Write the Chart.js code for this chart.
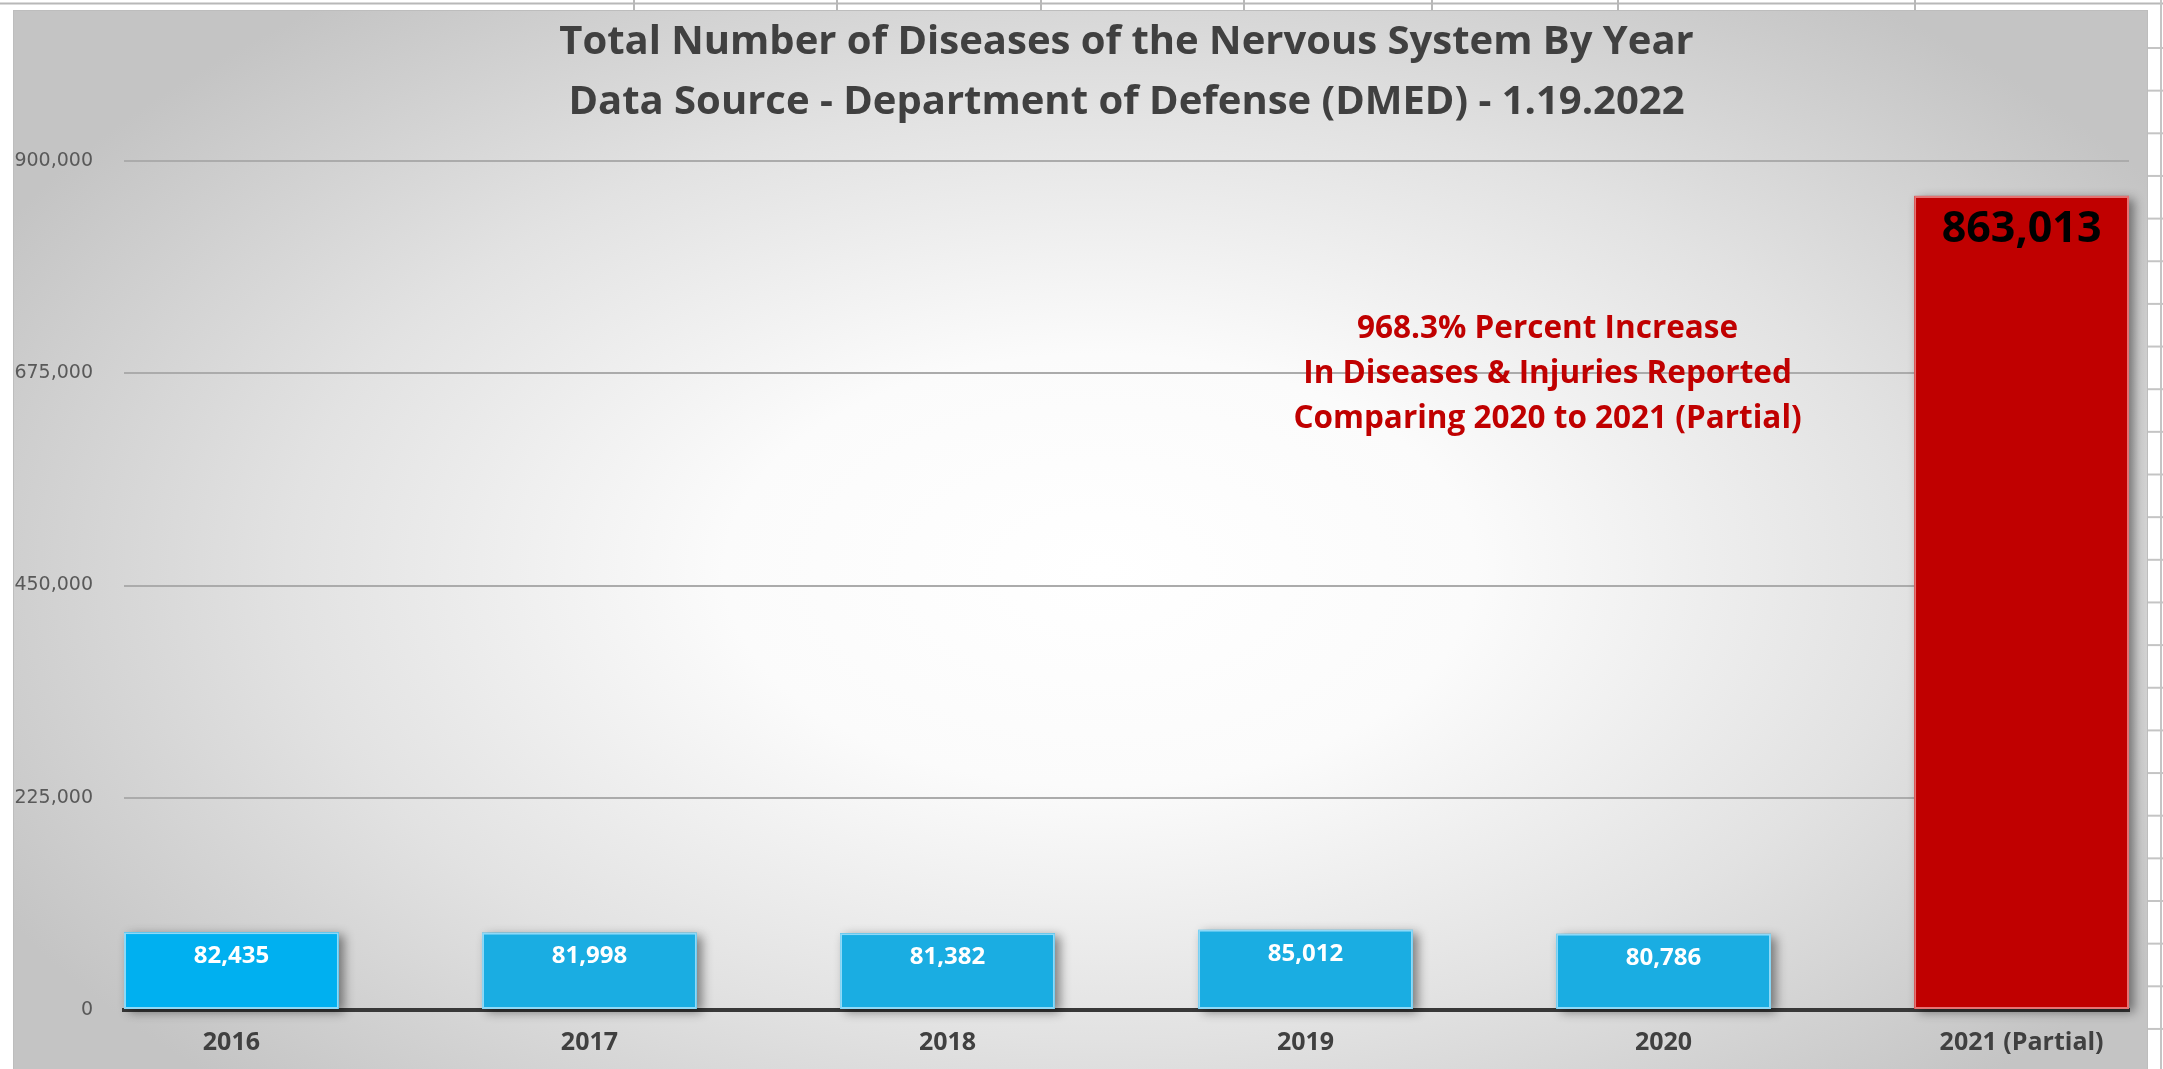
<!DOCTYPE html>
<html>
<head>
<meta charset="utf-8">
<script src="https://cdn.jsdelivr.net/npm/chart.js@4"></script>
<style>
  html, body { margin: 0; padding: 0; background: #ffffff; }
  #c { display: block; }
</style>
</head>
<body>
<canvas id="c" width="2163" height="1069" style="width:2163px;height:1069px"></canvas>
<script>
// ---- data ----
const categories = ['2016', '2017', '2018', '2019', '2020', '2021 (Partial)'];
const diseaseCounts = [82435, 81998, 81382, 85012, 80786, 863013];
const yTickValues = [0, 225000, 450000, 675000, 900000];
const titleLines = [
  'Total Number of Diseases of the Nervous System By Year',
  'Data Source - Department of Defense (DMED) - 1.19.2022'
];
const annotationLines = [
  '968.3% Percent Increase',
  'In Diseases & Injuries Reported',
  'Comparing 2020 to 2021 (Partial)'
];

// ---- styles ----
const barFill = ['#00B0F0', '#1AADE2', '#1AADE2', '#1AADE2', '#1AADE2', '#C00000'];
const barBorder = ['#8FD9F7', '#8FD9F7', '#8FD9F7', '#8FD9F7', '#8FD9F7', '#E57373'];
const labelColor = ['#FFFFFF', '#FFFFFF', '#FFFFFF', '#FFFFFF', '#FFFFFF', '#000000'];
const labelFont = ['bold 24px "Open Sans"', 'bold 24px "Open Sans"', 'bold 24px "Open Sans"',
                   'bold 24px "Open Sans"', 'bold 24px "Open Sans"', 'bold 43px "Open Sans"'];
const labelOffset = [24, 24, 24, 24, 24, 34];

const fmt = v => Number(v).toLocaleString('en-US');

// background: spreadsheet frame + radial gray gradient
const backgroundPlugin = {
  id: 'bg',
  beforeDraw(chart) {
    const ctx = chart.ctx;
    const W = chart.width, H = chart.height;
    ctx.save();
    ctx.fillStyle = '#ffffff';
    ctx.fillRect(0, 0, W, H);
    // spreadsheet cell lines
    ctx.strokeStyle = '#b8b8b8';
    ctx.lineWidth = 2;
    ctx.beginPath(); ctx.moveTo(0, 3.5); ctx.lineTo(W, 3.5); ctx.stroke();
    [634, 837, 1041, 1244, 1432, 1618, 1915].forEach(x => {
      ctx.beginPath(); ctx.moveTo(x, 0); ctx.lineTo(x, 10); ctx.stroke();
    });
    ctx.strokeStyle = '#c4c4c4';
    for (let y = 48; y < H; y += 42.65) {
      ctx.beginPath(); ctx.moveTo(2148, y); ctx.lineTo(W, y); ctx.stroke();
    }
    ctx.beginPath(); ctx.moveTo(2161, 0); ctx.lineTo(2161, H); ctx.stroke();

    // chart frame with elliptical radial gradient
    const fx = 13, fy = 10, fw = 2148 - 13, fh = H - 10;
    ctx.save();
    ctx.beginPath(); ctx.rect(fx, fy, fw, fh); ctx.clip();
    const cx = 1100, cy = 570, rx = 1250, ry = 720;
    ctx.translate(cx, cy);
    ctx.scale(1, ry / rx);
    const g = ctx.createRadialGradient(0, 0, 0, 0, 0, rx);
    g.addColorStop(0, '#ffffff');
    g.addColorStop(0.3, '#fbfbfb');
    g.addColorStop(0.65, '#e2e2e2');
    g.addColorStop(1, '#c4c4c4');
    ctx.fillStyle = g;
    ctx.fillRect(-rx * 2, -rx * 2, rx * 4, rx * 4);
    ctx.restore();
    ctx.strokeStyle = '#bdbdbd';
    ctx.lineWidth = 1;
    ctx.strokeRect(fx + 0.5, fy + 0.5, fw - 1, fh);
    ctx.restore();
  }
};

// soft drop shadow behind bars
const shadowPlugin = {
  id: 'barShadow',
  beforeDatasetsDraw(chart) {
    const ctx = chart.ctx;
    const meta = chart.getDatasetMeta(0);
    ctx.save();
    meta.data.forEach((el, i) => {
      const p = el.getProps(['x', 'y', 'base', 'width'], true);
      ctx.shadowColor = 'rgba(0,0,0,0.45)';
      ctx.shadowBlur = 10;
      ctx.shadowOffsetX = 5;
      ctx.shadowOffsetY = 3;
      ctx.fillStyle = barFill[i];
      ctx.fillRect(p.x - p.width / 2, p.y, p.width, p.base - p.y);
    });
    ctx.restore();
  }
};

// value labels inside the end of each bar
const valueLabelPlugin = {
  id: 'valueLabels',
  afterDatasetsDraw(chart) {
    const ctx = chart.ctx;
    const meta = chart.getDatasetMeta(0);
    ctx.save();
    ctx.textAlign = 'center';
    ctx.textBaseline = 'middle';
    meta.data.forEach((el, i) => {
      const p = el.getProps(['x', 'y'], true);
      ctx.font = labelFont[i];
      ctx.fillStyle = labelColor[i];
      ctx.fillText(fmt(diseaseCounts[i]), p.x, p.y + labelOffset[i]);
    });
    ctx.restore();
  }
};

// red text annotation
const annotationPlugin = {
  id: 'annotation',
  afterDatasetsDraw(chart) {
    const ctx = chart.ctx;
    const xs = chart.scales.x, ys = chart.scales.y;
    const ax = xs.getPixelForValue(3.676);
    const ay = ys.getPixelForValue(674000);
    ctx.save();
    ctx.textAlign = 'center';
    ctx.textBaseline = 'middle';
    ctx.font = 'bold 31.5px "Open Sans"';
    ctx.fillStyle = '#C00000';
    annotationLines.forEach((t, i) => ctx.fillText(t, ax, ay + (i - 1) * 45));
    ctx.restore();
  }
};

new Chart(document.getElementById('c'), {
  type: 'bar',
  data: {
    datasets: [{
      data: diseaseCounts.map((v, i) => ({ x: i, y: v })),
      backgroundColor: barFill,
      borderColor: barBorder,
      borderWidth: 2,
      borderSkipped: false,
      categoryPercentage: 1,
      barPercentage: 0.6
    }]
  },
  options: {
    responsive: false,
    animation: false,
    devicePixelRatio: 1,
    layout: { padding: { left: 0, right: 34, top: 0, bottom: 0 } },
    plugins: {
      legend: { display: false },
      tooltip: { enabled: false },
      title: {
        display: true,
        text: titleLines,
        fullSize: false,
        color: '#404040',
        font: { family: '"Open Sans"', weight: 'bold', size: 40, lineHeight: 60 / 40 },
        padding: { top: 13, bottom: 28 }
      }
    },
    scales: {
      x: {
        type: 'linear',
        min: -0.3,
        max: 5.3,
        offset: false,
        z: 1,
        afterBuildTicks: s => { s.ticks = categories.map((c, i) => ({ value: i })); },
        afterFit: s => { s.height = 59; },
        grid: { display: false, drawTicks: false, offset: false },
        border: { display: true, color: '#383838', width: 4 },
        ticks: {
          autoSkip: false,
          maxRotation: 0,
          padding: 18,
          color: '#404040',
          font: { family: '"Open Sans"', weight: 'bold', size: 25 },
          callback: v => categories[v]
        }
      },
      y: {
        min: 0,
        max: 900000,
        afterBuildTicks: s => { s.ticks = yTickValues.map(v => ({ value: v })); },
        afterFit: s => { s.width = 124; },
        grid: { color: '#ababab', lineWidth: 2, drawTicks: false },
        border: { display: false },
        ticks: {
          padding: 31,
          color: '#595959',
          font: { family: '"DejaVu Sans"', size: 19 },
          callback: v => fmt(v)
        }
      }
    }
  },
  plugins: [backgroundPlugin, shadowPlugin, valueLabelPlugin, annotationPlugin]
});
</script>
</body>
</html>
